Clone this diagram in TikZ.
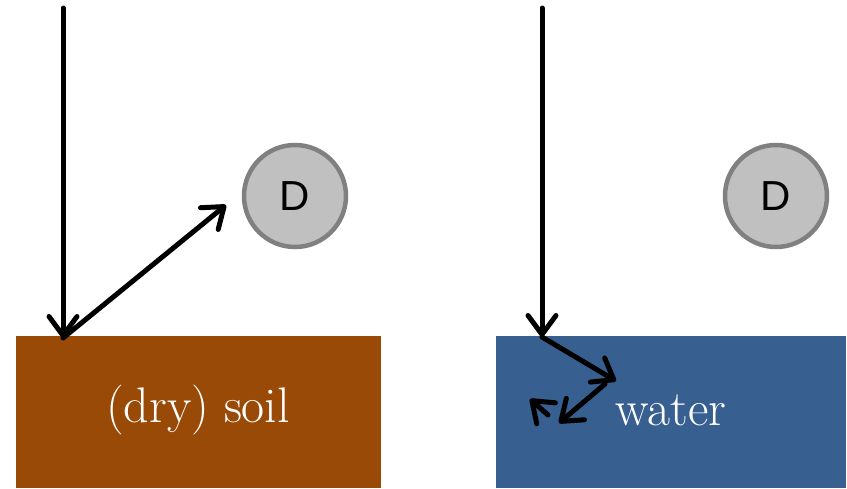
\documentclass[tikz,border=0pt]{standalone}
\usepackage{fontspec}
\newfontfamily\detfont{Liberation Sans}
\usetikzlibrary{arrows.meta}
\definecolor{soilbrown}{HTML}{994A06}
\definecolor{waterblue}{HTML}{375F90}
\definecolor{detfill}{HTML}{C0C0C0}
\definecolor{detline}{HTML}{808080}

\begin{document}
\begin{tikzpicture}[x=1pt,y=-1pt,
		ray/.style={line width=5pt,line cap=round,line join=round,
			-{Straight Barb[length=19pt,width=28pt,line cap=round,line join=round]}},
		label/.style={text=white,font=\fontsize{50}{56}\selectfont},
		det/.style={circle,draw=detline,fill=detfill,line width=4.5pt,
			minimum size=102pt,inner sep=0pt,font=\detfont\fontsize{42}{46}\selectfont}]
	\useasboundingbox (0,0) rectangle (847,488);
	% the two surfaces
	\fill[soilbrown] (16,336) rectangle (381,488);
	\fill[waterblue] (496,336) rectangle (846,488);
	\node[label] (soil) at (198,410) {(dry) soil};
	\node[label] (water) at (671,410) {water};
	% detectors
	\node[det] (detA) at (295,196) {D};
	\node[det] (detB) at (776,196) {D};
	% incoming rays
	\foreach \X/\Y in {a/63,b/542}
		\coordinate (top\X) at (\Y,8);
	\coordinate (hitA) at (63,338);
	\coordinate (hitB) at (542,337);
	\draw[ray] (topa) -- (hitA);
	\draw[ray] (topb) -- (hitB);
	% soil reflects towards D
	\draw[ray] (hitA) -- (226,205);
	% water scatters it away
	\coordinate (s1) at (616,381);
	\coordinate (s2) at (605,384);
	\coordinate (s3) at (559,423);
	\coordinate (s4) at (548,415);
	\draw[ray] (hitB) -- (s1);
	\draw[ray] (s2) -- (s3);
	\draw[ray] (s4) -- (530,399);
\end{tikzpicture}
\end{document}
